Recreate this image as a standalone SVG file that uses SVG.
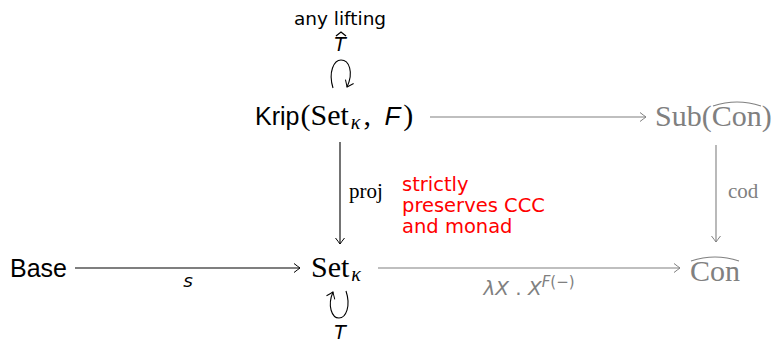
<svg xmlns="http://www.w3.org/2000/svg" width="778" height="342" viewBox="0 0 778 342">
<style>
.sans{font-family:"Liberation Sans","DejaVu Sans",sans-serif}
.lsans{font-family:"DejaVu Sans","Liberation Sans",sans-serif}
.serif{font-family:"Liberation Serif","DejaVu Serif",serif}
.node{font-size:25px}
.snode{font-size:30px}
.gray{fill:#808080}
.red{fill:#ff0000;font-family:"DejaVu Sans","Liberation Sans",sans-serif;font-size:19.5px}
.lbl{font-size:18.5px}
.edge{fill:none;stroke-width:1.1}
</style>
<defs>
<marker id="ab" viewBox="-8 -6 10 12" markerWidth="10" markerHeight="12" refX="0" refY="0" orient="auto" markerUnits="userSpaceOnUse">
<path d="M-6,-4.5 Q-1.5,-1 0,0 Q-1.5,1 -6,4.5" fill="none" stroke="#000" stroke-width="1"/>
</marker>
<marker id="ag" viewBox="-8 -6 10 12" markerWidth="10" markerHeight="12" refX="0" refY="0" orient="auto" markerUnits="userSpaceOnUse">
<path d="M-6,-4.5 Q-1.5,-1 0,0 Q-1.5,1 -6,4.5" fill="none" stroke="#808080" stroke-width="1"/>
</marker>
</defs>
<g id="connectors">
<path class="edge" stroke="#808080" d="M430,117 H646" marker-end="url(#ag)"/>
<path class="edge" stroke="#000" d="M75,268 H300" marker-end="url(#ab)"/>
<path class="edge" stroke="#808080" d="M378,268 H680" marker-end="url(#ag)"/>
<path class="edge" stroke="#000" d="M340,142 V244" marker-end="url(#ab)"/>
<path class="edge" stroke="#808080" d="M716,145 V242" marker-end="url(#ag)"/>
<path class="edge" stroke="#000" d="M333,88 C328,72 334,60 341,60 C349,60 354,72 347,87" marker-end="url(#ab)"/>
<path class="edge" stroke="#000" d="M346,291 C351,306 346,318 339,318 C332,318 327,306 333,292" marker-end="url(#ab)"/>
</g>
<g id="krip">
<text x="255" y="125"><tspan class="sans node">Krip</tspan><tspan class="serif snode" dx="1">(Set</tspan><tspan class="serif" font-style="italic" font-size="20" dy="4" dx="2">κ</tspan><tspan class="serif snode" dy="-4" dx="3">, </tspan><tspan class="sans" font-size="26" font-style="italic" dx="6">F</tspan><tspan class="serif snode" dx="3">)</tspan></text>
</g>
<g id="lifting">
<text x="340" y="25" class="lsans lbl" text-anchor="middle">any lifting</text>
<text x="340" y="51" class="lsans" font-size="19" font-style="italic" text-anchor="middle">T</text>
<path d="M336,36 L341,32 L346,36" fill="none" stroke="#000" stroke-width="1.3"/>
</g>
<g id="sub">
<text x="655" y="126" class="snode serif gray">Sub(Con)</text>
<path d="M713,106 Q737,98 761,106" fill="none" stroke="#808080" stroke-width="1.2"/>
</g>
<g id="base">
<text x="10" y="277" class="node sans">Base</text>
</g>
<g id="set">
<text x="311" y="277" class="snode serif">Set<tspan font-style="italic" font-size="20" dy="4" dx="2">κ</tspan></text>
</g>
<g id="con">
<text x="690" y="281" class="snode serif gray">Con</text>
<path d="M691,261 Q715,253 739,261" fill="none" stroke="#808080" stroke-width="1.2"/>
</g>
<g id="labels">
<text x="188" y="287" class="lsans lbl" font-style="italic" text-anchor="middle">s</text>
<text x="529" y="295" class="lsans gray" font-size="20" text-anchor="middle"><tspan font-style="italic">λX</tspan> . <tspan font-style="italic">X</tspan><tspan font-size="15" dy="-8" font-style="italic">F</tspan><tspan font-size="15">(−)</tspan></text>
<text x="349" y="198" class="serif" font-size="21">proj</text>
<text x="728" y="198" class="serif gray" font-size="21">cod</text>
<text x="340" y="339" class="lsans" font-size="19" font-style="italic" text-anchor="middle">T</text>
</g>
<g id="note">
<text class="red"><tspan x="402" y="191">strictly</tspan><tspan x="402" y="212">preserves CCC</tspan><tspan x="402" y="233">and monad</tspan></text>
</g>
</svg>
